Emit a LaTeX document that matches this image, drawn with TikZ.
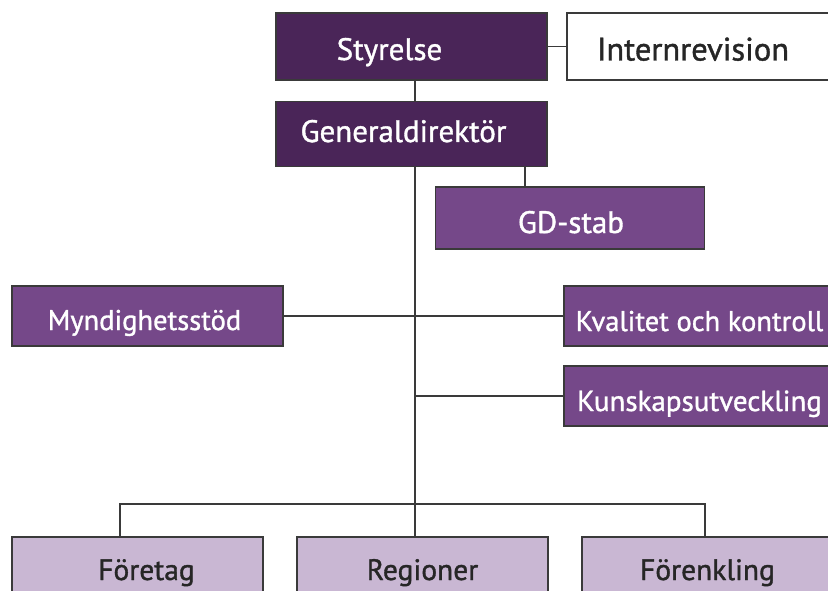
\documentclass[tikz,border=0pt]{standalone}
\usepackage{fontspec}
\setmainfont{PT Sans}[FakeBold=1.2]
\definecolor{dpurp}{HTML}{4A2558}
\definecolor{mpurp}{HTML}{754889}
\definecolor{lpurp}{HTML}{C9B7D3}
\definecolor{edge}{HTML}{3A3A3A}
% label placed dx right of centre, baseline dy below centre
\newcommand\lbl[3]{\makebox[0pt]{\hspace*{#1}\hspace*{#1}\raisebox{-#2}{#3}}}
\tikzset{
  box/.style={draw=edge, line width=1.1pt, inner sep=0pt, outer sep=0pt, anchor=center,
    text height=0pt, text depth=0pt},
  topbox/.style={box, fill=dpurp, text=white, minimum width=271pt, font=\fontsize{31}{34}\selectfont},
  midbox/.style={box, fill=mpurp, text=white, minimum width=271pt, minimum height=60pt, font=\fontsize{28.5}{32}\selectfont},
  lowbox/.style={box, fill=lpurp, text=black!85, minimum width=251pt, minimum height=70pt, font=\fontsize{29.5}{32}\selectfont},
  link/.style={draw=edge, line width=1.5pt}
}
\begin{document}
\begin{tikzpicture}[x=1pt,y=-1pt]
\useasboundingbox (0,0) rectangle (828,591);
\clip (0,0) rectangle (828,591);
\fill[white] (0,0) rectangle (828,591);
% nodes
\node[topbox, minimum height=67pt] (sty) at (411.5,46.5) {\lbl{-22pt}{13.5pt}{Styrelse}};
\node[topbox, fill=white, text=black!85, minimum height=67pt, font=\fontsize{32.5}{35}\selectfont] (int) at (702.5,46.5) {\lbl{-9.5pt}{14pt}{Internrevision}};
\node[topbox, minimum height=65pt] (gd) at (411.5,134) {\lbl{-8pt}{8pt}{Generaldirektör}};
\node[topbox, fill=mpurp, minimum width=269pt, minimum height=62pt] (gds) at (570,218) {\lbl{1pt}{15pt}{GD-stab}};
\node[midbox] (myn) at (147.5,316) {\lbl{-3pt}{14pt}{Myndighetsstöd}};
\node[midbox] (kva) at (699.5,316) {\lbl{0pt}{15pt}{Kvalitet och kontroll}};
\node[midbox, font=\fontsize{29}{32}\selectfont] (kun) at (699.5,396) {\lbl{0pt}{15pt}{Kunskapsutveckling}};
\node[lowbox] (foe) at (137.5,572) {\lbl{9pt}{8pt}{Företag}};
\node[lowbox] (reg) at (422.5,572) {\lbl{0pt}{8pt}{Regioner}};
\node[lowbox] (fen) at (707.5,572) {\lbl{0pt}{8pt}{Förenkling}};
% junction coordinates
\coordinate (t) at (415,504);
\coordinate (dl) at (120,504);
\coordinate (dr) at (705,504);
\coordinate (gx) at (525,0);
% connectors
\draw[link] (sty.east) -- (int.west);
\draw[link] (sty.south -| t) -- (gd.north -| t);
\draw[link] (gd.south -| t) -- (t);
\draw[link] (gd.south -| gx) -- (gds.north -| gx);
\draw[link] (myn.east) -- (kva.west);
\draw[link] (kun.west) -- (kun.west -| t);
\draw[link] (dl |- foe.north) -- (dl) -- (dr) -- (dr |- fen.north);
\draw[link] (t) -- (t |- reg.north);
\end{tikzpicture}
\end{document}
